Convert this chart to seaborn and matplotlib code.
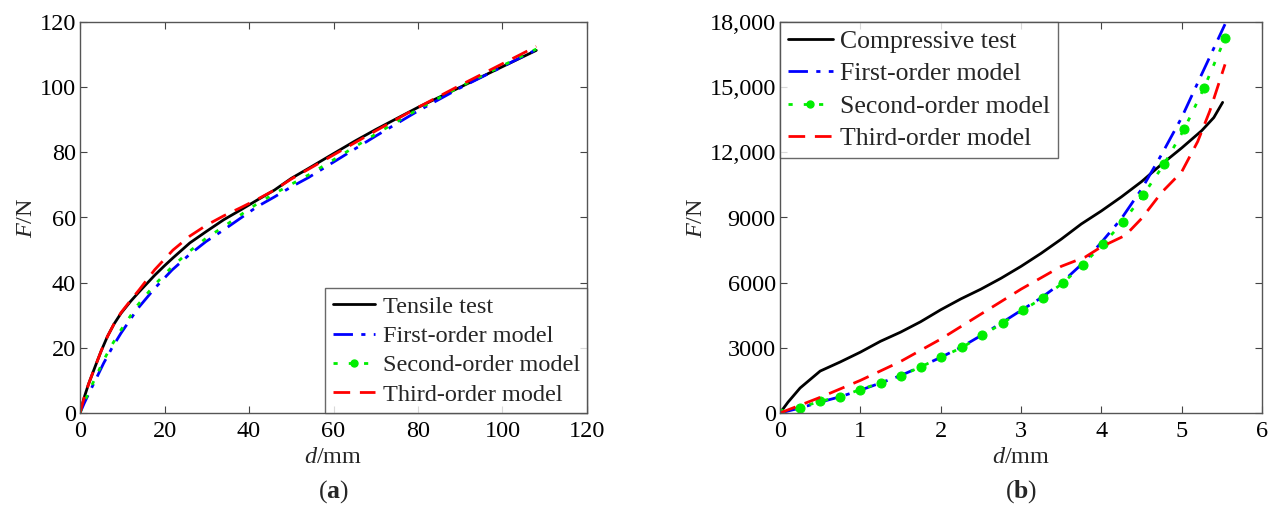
import numpy as np
import pandas as pd
import seaborn as sns
import matplotlib
matplotlib.use("Agg")
import matplotlib.pyplot as plt
from matplotlib.lines import Line2D

sns.set_theme(style="white")
plt.rcParams['font.family'] = ['Liberation Serif', 'DejaVu Serif']
plt.rcParams['mathtext.fontset'] = 'custom'
plt.rcParams['mathtext.rm'] = 'Liberation Serif'
plt.rcParams['mathtext.it'] = 'Liberation Serif:italic'
plt.rcParams['mathtext.bf'] = 'Liberation Serif:bold'

# ---------------- Panel (a): tensile ----------------
tens_x = [0, 1, 2, 3.6, 5, 6.5, 8, 9.7, 12, 14, 17.7, 20, 22, 26, 30, 34, 38, 42, 46, 50, 54, 60, 65, 70,
          80, 90, 100, 108]
tens_y = [0, 4.8, 8.8, 14.3, 19, 23.5, 27.2, 30.6, 34.3, 37.2, 42.3, 45.2, 47.6, 52.2, 55.8, 59.3, 62.3,
          65.4, 68.4, 72, 75, 79.6, 83.4, 87, 93.8, 100, 106.3, 111.3]

first_a_x = [0, 1, 2.4, 4, 5.6, 7.5, 9.7, 13.7, 17.7, 21.8, 25.8, 29.8, 33.9, 37.9, 41.9, 46, 50, 54, 60,
             70, 80, 90, 100, 108]
first_a_y = [0, 3, 6.8, 11, 15.3, 19.8, 24.5, 32.1, 38.3, 43.9, 48.5, 52.6, 56.1, 59.7, 63.3, 66.3, 69.4,
             72.2, 77, 85, 92.7, 99.8, 106.3, 111.5]

second_a_x = [0, 1, 2.4, 4, 5.6, 7.5, 9.7, 13.7, 17.7, 21.8, 25.8, 29.8, 33.9, 37.9, 41.9, 46, 50, 54, 60,
              70, 80, 90, 100, 108]
second_a_y = [0, 3.3, 7.4, 11.8, 16.2, 20.8, 25.5, 33.2, 39.4, 44.9, 49.5, 53.6, 57.1, 60.7, 64.2, 67.3,
              70.2, 73, 77.7, 85.6, 93.2, 100.2, 106.6, 111.7]

third_a_x = [0, 1, 2, 3.6, 5, 6.5, 8, 9.7, 12, 14, 17.7, 20, 22, 26, 30, 34, 38, 42, 46, 50, 60, 70, 80,
             90, 100, 108]
third_a_y = [0, 4.8, 8.8, 14.3, 19, 23.5, 27.2, 30.8, 34.6, 37.8, 44, 47.2, 50, 54.3, 57.7, 60.5, 63, 65.6,
             68.4, 71.8, 79.2, 86.6, 93.8, 100.6, 107.2, 112.5]

# ---------------- Panel (b): compressive ----------------
comp_x = [0, 0.1, 0.25, 0.5, 0.75, 1.0, 1.25, 1.5, 1.75, 2.0, 2.25, 2.5, 2.75, 3.0, 3.25, 3.5,
          3.75, 4.0, 4.25, 4.5, 4.75, 5.0, 5.25, 5.4, 5.51]
comp_y = [0, 500, 1150, 1930, 2350, 2800, 3300, 3720, 4200, 4750, 5250, 5700, 6200, 6750, 7350, 8000,
          8700, 9300, 9950, 10650, 11450, 12200, 13000, 13600, 14300]

first_b_x = [0, 0.25, 0.5, 0.75, 1.0, 1.25, 1.5, 1.75, 2.0, 2.25, 2.5, 2.75, 3.0, 3.25, 3.5,
             3.75, 4.0, 4.25, 4.5, 4.75, 5.0, 5.25, 5.54]
first_b_y = [0, 230, 500, 750, 1050, 1380, 1720, 2130, 2560, 3020, 3560, 4130, 4720, 5300, 5980,
             6830, 7850, 8950, 10300, 11900, 13600, 15600, 17900]

second_b_x = [0, 0.25, 0.5, 0.75, 1.0, 1.26, 1.51, 1.76, 2.01, 2.27, 2.52, 2.77, 3.02, 3.27, 3.52,
              3.77, 4.02, 4.27, 4.52, 4.78, 5.03, 5.28, 5.54]
second_b_y = [0, 250, 540, 750, 1080, 1400, 1720, 2140, 2570, 3030, 3570, 4140, 4720, 5300, 5980,
              6830, 7770, 8800, 10030, 11450, 13060, 14980, 17250]

third_b_x = [0, 0.5, 1.0, 1.5, 2.0, 2.5, 3.0, 3.5, 3.8, 4.0, 4.3, 4.5, 4.75, 5.0, 5.2, 5.35, 5.54]
third_b_y = [0, 720, 1500, 2370, 3400, 4550, 5700, 6750, 7180, 7650, 8180, 8950, 10150, 11100, 12500, 13900, 16050]

BLACK, BLUE, GREEN, RED = "#000000", "#0000ff", "#00ee00", "#ff0000"

fig = plt.figure(figsize=(12.77, 5.11), dpi=100)
ax1 = fig.add_axes([80/1277, 1-413/511, (587-80)/1277, (413-22)/511])
ax2 = fig.add_axes([780/1277, 1-413/511, (1262-780)/1277, (413-22)/511])

lw = 2.0
sns.lineplot(x=tens_x, y=tens_y, ax=ax1, color=BLACK, lw=lw, label="Tensile test")
sns.lineplot(x=first_a_x, y=first_a_y, ax=ax1, color=BLUE, lw=lw, label="First-order model")
ax1.lines[-1].set_dashes([7, 3, 1.5, 3])
sns.lineplot(x=second_a_x, y=second_a_y, ax=ax1, color=GREEN, lw=lw, label="Second-order model")
ax1.lines[-1].set_dashes([1.5, 4])
sns.lineplot(x=third_a_x, y=third_a_y, ax=ax1, color=RED, lw=lw, label="Third-order model")
ax1.lines[-1].set_dashes([6, 3.5])

sns.lineplot(x=comp_x, y=comp_y, ax=ax2, color=BLACK, lw=lw, label="Compressive test")
sns.lineplot(x=first_b_x, y=first_b_y, ax=ax2, color=BLUE, lw=lw, label="First-order model")
ax2.lines[-1].set_dashes([7, 3, 1.5, 3])
sns.lineplot(x=second_b_x, y=second_b_y, ax=ax2, color=GREEN, lw=lw, label="Second-order model",
             marker="o", markersize=6.5, markeredgecolor=GREEN)
ax2.lines[-1].set_dashes([1.5, 4])
sns.lineplot(x=third_b_x, y=third_b_y, ax=ax2, color=RED, lw=lw, label="Third-order model")
ax2.lines[-1].set_dashes([6, 3.5])

fs = 17.5
for ax in (ax1, ax2):
    ax.tick_params(direction="in", length=5, width=0.8, top=True, right=True,
                   bottom=True, left=True, labelsize=fs, colors="#444444",
                   labelcolor="black")
    ax.tick_params(axis="x", pad=6)
    ax.tick_params(axis="y", pad=3)
    for s in ax.spines.values():
        s.set_color("#555555")
        s.set_linewidth(1.0)
    ax.set_xlabel(r"$\mathit{d}$/mm", fontsize=fs, labelpad=3)
    ax.set_ylabel(r"$\mathit{F}$/N", fontsize=fs, labelpad=2)

ax1.set_xlim(0, 120)
ax1.set_ylim(0, 120)
ax1.set_xticks([0, 20, 40, 60, 80, 100, 120])
ax1.set_yticks([0, 20, 40, 60, 80, 100, 120])

ax2.set_xlim(0, 6)
ax2.set_ylim(0, 18000)
ax2.set_xticks([0, 1, 2, 3, 4, 5, 6])
ax2.set_yticks([0, 3000, 6000, 9000, 12000, 15000, 18000])
ax2.set_yticklabels(["0", "3000", "6000", "9000", "12,000", "15,000", "18,000"])

def make_legend(ax, labels, loc, size, spacing):
    handles = [
        Line2D([], [], color=BLACK, lw=lw),
        Line2D([], [], color=BLUE, lw=lw, dashes=[7, 3, 1.5, 3]),
        Line2D([], [], color=GREEN, lw=lw, dashes=[1.5, 4], marker="o", markersize=5, markeredgecolor=GREEN),
        Line2D([], [], color=RED, lw=lw, dashes=[6, 3.5]),
    ]
    leg = ax.legend(handles, labels, loc=loc, fontsize=size, frameon=True, fancybox=False,
                    handlelength=1.75, handletextpad=0.3, borderpad=0.3, labelspacing=spacing,
                    borderaxespad=0)
    leg.get_frame().set_edgecolor("#444444")
    leg.get_frame().set_linewidth(1.0)
    return leg

make_legend(ax1, ["Tensile test", "First-order model", "Second-order model", "Third-order model"],
            "lower right", 17.5, 0.3)
make_legend(ax2, ["Compressive test", "First-order model", "Second-order model", "Third-order model"],
            "upper left", 18.5, 0.37)

fig.text(333/1277, 1-492/511, r"($\mathbf{a}$)", fontsize=18.5, ha="center", va="center")
fig.text(1021/1277, 1-492/511, r"($\mathbf{b}$)", fontsize=18.5, ha="center", va="center")

fig.savefig("out.png", dpi=100)
